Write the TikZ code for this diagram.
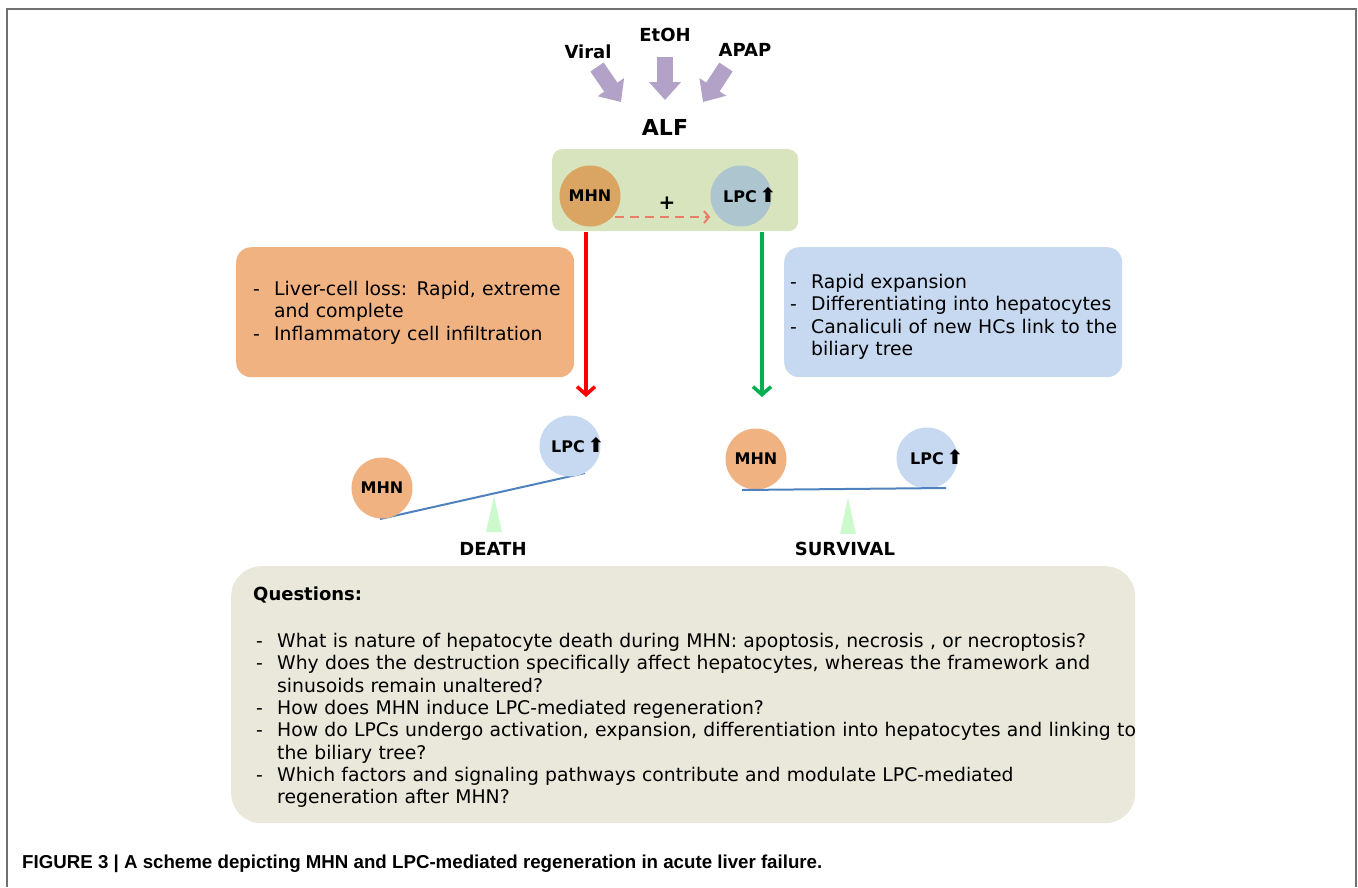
\documentclass[tikz,border=0pt]{standalone}
\usepackage{fontspec}
\setmainfont{DejaVu Sans}
\newfontfamily\capfont{Liberation Sans}
\usepackage{tikz}
\usetikzlibrary{positioning}
\usetikzlibrary{arrows.meta}

\definecolor{causecol}{RGB}{179,162,199}
\definecolor{alfcol}{RGB}{215,228,189}
\definecolor{mhntop}{RGB}{218,165,98}
\definecolor{lpctop}{RGB}{172,197,206}
\definecolor{inducecol}{RGB}{235,125,105}
\definecolor{mhncol}{RGB}{241,178,130}
\definecolor{lpccol}{RGB}{198,217,240}
\definecolor{questcol}{RGB}{234,232,218}
\definecolor{beamcol}{RGB}{79,129,189}
\definecolor{pivotcol}{RGB}{204,250,204}
\definecolor{deathcol}{RGB}{255,0,0}
\definecolor{survcol}{RGB}{0,176,80}
\definecolor{framecol}{RGB}{112,112,112}

\newcommand{\dashitem}[1]{\par\hangindent=21pt\hangafter=1\noindent\makebox[21pt][l]{\strut-}#1\par}
\newcommand{\uparr}{{\fontsize{20}{16}\selectfont⬆}}

\begin{document}
\begin{tikzpicture}[x=1pt, y=-1pt,
          tag/.style={font=\bfseries\fontsize{18}{18}\selectfont, inner sep=0pt},
          cause/.style={line width=16pt, draw=causecol,
            -{Triangle[length=18pt,width=31pt]}},
          cell/.style={circle, minimum size=61pt, inner sep=0pt,
            font=\bfseries\fontsize{16}{16}\selectfont},
          celltext/.style={font=\bfseries\fontsize{16}{16}\selectfont,
            inner sep=0pt, anchor=base west},
          infobox/.style={rounded corners=15pt, inner sep=0pt, anchor=north west},
          listtext/.style={font=\fontsize{18.8}{22.3}\selectfont, inner sep=0pt,
            anchor=north west, align=left},
          path/.style={line width=3.5pt, -{Straight Barb[length=8pt,width=18pt]}},
          beam/.style={draw=beamcol, line width=2pt},
          pivot/.style={fill=pivotcol, draw=none}]
          \useasboundingbox (0,0) rectangle (1358,887);
          \draw [framecol, line width=2pt] (7,887) -- (7,9) -- (1356,9) -- (1356,887);

          \node [tag] (viral) at (588,52) {Viral};
          \node [tag] (etoh) at (665,35) {EtOH};
          \node [tag] (apap) at (745,50) {APAP};
          \coordinate (viraltail) at (597,67);
          \coordinate (viraltip) at (621,102);
          \coordinate (etohtail) at (665,57);
          \coordinate (etohtip) at (665,100);
          \coordinate (apaptail) at (726,67);
          \coordinate (apaptip) at (703,102);
          \foreach \src in {viral, etoh, apap}{
            \draw [cause] (\src tail) -- (\src tip);
          }
          \node [tag, font=\bfseries\fontsize{22}{22}\selectfont] (alf) at (665,127) {ALF};

          \node [infobox, fill=alfcol, rounded corners=10pt, minimum width=246pt,
            minimum height=82pt] (alfbox) at (552,149) {};
          \node [cell, fill=mhntop] (mhn) at (590,196) {MHN};
          \node [cell, fill=lpctop] (lpc) at (741,196) {};
          \node [celltext] (lpclabel) at ([xshift=-18pt,yshift=-6pt]lpc.center) {LPC\,\uparr};
          \draw [inducecol, line width=2pt, dash pattern=on 9pt off 6pt,
            -{Straight Barb[length=5pt,width=12pt]}] (615,217) -- (lpc.west |- 0,217);
          \node [tag, font=\bfseries\fontsize{20}{20}\selectfont] (plus) at (667,203) {+};

          \node [infobox, fill=mhncol, minimum width=338pt, minimum height=130pt]
            (lossbox) at (236,247) {};
          \node [listtext, text width=315pt] (losstext) at (253,273) {%
            \dashitem{Liver-cell loss: Rapid, extreme\newline and complete}
            \dashitem{Inflammatory cell infiltration}};
          \node [infobox, fill=lpccol, minimum width=338pt, minimum height=130pt]
            (regenbox) at (784,247) {};
          \node [listtext, text width=330pt] (regentext) at (790,266) {%
            \dashitem{Rapid expansion}
            \dashitem{Differentiating into hepatocytes}
            \dashitem{Canaliculi of new HCs link to the\newline biliary tree}};

          \coordinate (deathstart) at (586,232);
          \coordinate (deathend) at (586,397);
          \coordinate (survstart) at (762,232);
          \coordinate (survend) at (762,397);
          \draw [path, deathcol] (deathstart) -- (deathend);
          \draw [path, survcol] (survstart) -- (survend);

          \coordinate (dbeamleft) at (380,519);
          \coordinate (dbeamright) at (585,473);
          \draw [pivot] (494,496) -- (502,532) -- (486,532) -- cycle;
          \draw [beam] (dbeamleft) -- (dbeamright);
          \node [cell, fill=mhncol] (dmhn) at (382,488) {MHN};
          \node [cell, fill=lpccol] (dlpc) at (570,446) {};
          \node [celltext] (dlpclabel) at ([xshift=-19pt,yshift=-6pt]dlpc.center) {LPC\,\uparr};
          \node [tag] (death) at (493,549) {DEATH};

          \coordinate (sbeamleft) at (742,490);
          \coordinate (sbeamright) at (946,488);
          \draw [pivot] (848,498) -- (856,534) -- (840,534) -- cycle;
          \node [cell, fill=mhncol] (smhn) at (756,459) {MHN};
          \node [cell, fill=lpccol] (slpc) at (927,458) {};
          \node [celltext] (slpclabel) at ([xshift=-17pt,yshift=-6pt]slpc.center) {LPC\,\uparr};
          \draw [beam] (sbeamleft) -- (sbeamright);
          \node [tag] (survival) at (845,549) {SURVIVAL};

          \node [infobox, fill=questcol, rounded corners=30pt, minimum width=904pt,
            minimum height=257pt] (questbox) at (231,566) {};
          \node [tag, anchor=west] (questhead) at (253,595) {Questions:};
          \node [listtext, text width=890pt] (questtext) at (256,625) {%
            \dashitem{What is nature of hepatocyte death during MHN: apoptosis, necrosis , or necroptosis?}
            \dashitem{Why does the destruction specifically affect hepatocytes, whereas the framework and\newline sinusoids remain unaltered?}
            \dashitem{How does MHN induce LPC-mediated regeneration?}
            \dashitem{How do LPCs undergo activation, expansion, differentiation into hepatocytes and linking to\newline the biliary tree?}
            \dashitem{Which factors and signaling pathways contribute and modulate LPC-mediated\newline regeneration after MHN?}};

          \node [anchor=west, inner sep=0pt, font=\capfont\bfseries\fontsize{18.7}{18.7}\selectfont]
            (caption) at (22,864) {FIGURE 3 | A scheme depicting MHN and LPC-mediated regeneration in acute liver failure.};
        \end{tikzpicture}
\end{document}
